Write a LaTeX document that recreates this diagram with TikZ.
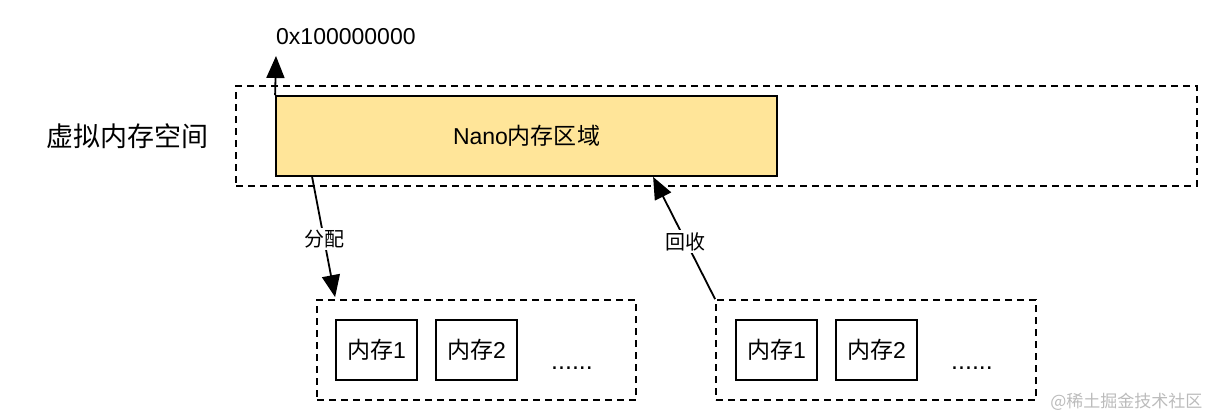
\documentclass[tikz,border=0pt]{standalone}
\usepackage{fontspec}
\setmainfont{Liberation Sans}
\newfontfamily\cjk{Noto Sans CJK SC}
\usetikzlibrary{calc}
\usetikzlibrary{arrows.meta}
\usetikzlibrary{positioning}
\definecolor{nanofill}{HTML}{FFE599}
\definecolor{markgrey}{HTML}{BBBBBB}

\tikzset{
    pool/.style={draw, line width=1.8pt, dash pattern=on 7pt off 5pt, inner sep=0pt},
    cell/.style={draw, line width=1.8pt, minimum width=81pt, minimum height=60pt,
        inner sep=0pt, font=\fontsize{23}{26}\selectfont},
    tag/.style={fill=white, inner sep=2pt, font=\fontsize{20}{24}\selectfont\cjk},
    link/.style={line width=1.8pt, -{Triangle[length=22pt, width=18pt]}}
}

\begin{document}
\begin{tikzpicture}[x=1pt, y=-1pt]
        \useasboundingbox (0, 0) rectangle (1214, 418);

        % virtual space and the nano region
        \node [pool, minimum width=961pt, minimum height=100pt] (vspace) at (716.5, 136) {};
        \node [draw, fill=nanofill, line width=1.8pt, minimum width=501pt, minimum height=80pt,
            font=\fontsize{23}{26}\selectfont] (nano) at (526.5, 136) {Nano{\cjk 内存区域}};
        \node [font=\fontsize{27}{30}\selectfont\cjk] (vlabel) at (127, 136) {虚拟内存空间};

        % address mark
        \coordinate (addrtip) at (276, 56);
        \draw [link] (nano.north west) -- (addrtip);
        \node [anchor=west, inner sep=0pt, font=\fontsize{23}{26}\selectfont] (addr) at (276, 37) {0x100000000};

        % the two pools
        \node [pool, minimum width=319pt, minimum height=100pt] (lpool) at (476.5, 350) {};
        \node [pool, minimum width=320pt, minimum height=100pt] (rpool) at (876, 350) {};

        \node [cell] (lcellA) at (376.5, 350) {{\cjk 内存}1};
        \node [cell] (lcellB) at (476.5, 350) {{\cjk 内存}2};
        \node [anchor=base, font=\fontsize{25}{28}\selectfont] (ldots) at (572, 369) {......};

        \node [cell] (rcellA) at (776.5, 350) {{\cjk 内存}1};
        \node [cell] (rcellB) at (876.5, 350) {{\cjk 内存}2};
        \node [anchor=base, font=\fontsize{25}{28}\selectfont] (rdots) at (972, 369) {......};

        % allocate and recycle
        \coordinate (allocfrom) at ($(nano.south west)+(37, 0)$);
        \coordinate (allocto) at ($(lpool.north west)+(19, -2)$);
        \draw [link] (allocfrom) -- (allocto) node [tag, pos=0.52] (alloc) {分配};

        \coordinate (backto) at ($(nano.south west)+(378, 0)$);
        \draw [link] (rpool.north west) -- (backto) node [tag, pos=0.47] (back) {回收};

        \node [anchor=east, text=markgrey, font=\fontsize{17}{20}\selectfont\cjk] (mark) at (1206, 402) {@稀土掘金技术社区};
    \end{tikzpicture}
\end{document}
